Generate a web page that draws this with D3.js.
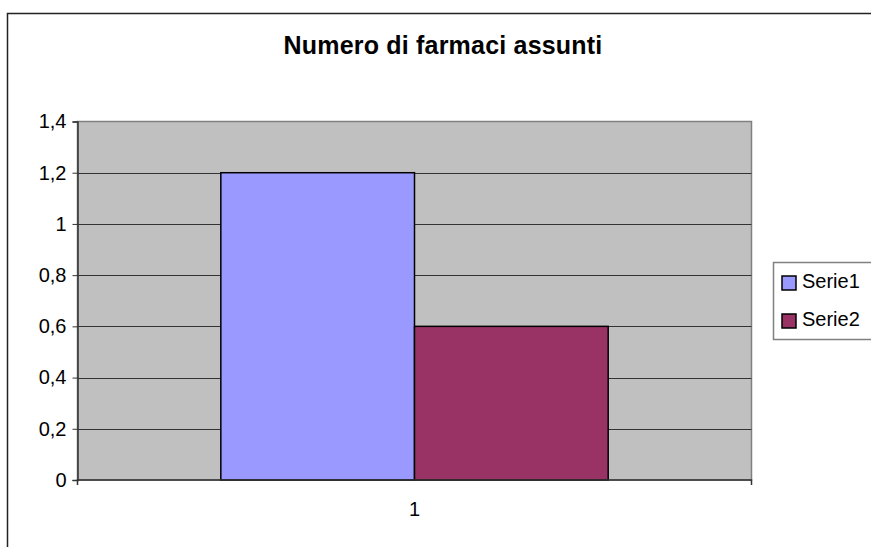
<!DOCTYPE html>
<html>
<head>
<meta charset="utf-8">
<script src="https://cdn.jsdelivr.net/npm/d3@7"></script>
<style>
  body { margin: 0; background: #fff; }
  svg { display: block; font-family: "Liberation Sans", Arial, sans-serif; }
</style>
</head>
<body>
<div id="chart"></div>
<script>
// chart data
var categories = ["1"];
var seriesNames = ["Serie1", "Serie2"];
var seriesValues = [1.2, 0.6];
var seriesColors = ["#9999FF", "#993366"];
var yTicks = [0, 0.2, 0.4, 0.6, 0.8, 1, 1.2, 1.4];

var width = 871, height = 547;
var plot = { left: 77.5, top: 121.5, right: 751.5, bottom: 480 };

var svg = d3.select("#chart")
    .append("svg")
    .attr("width", width)
    .attr("height", height);

// italian number format: comma as decimal separator
var itFormat = d3.formatLocale({ decimal: ",", thousands: ".", grouping: [3], currency: ["", "€"] }).format("~g");

// outer chart border (runs off the right and bottom edge)
svg.append("path")
    .attr("d", "M7.5," + (height + 5) + "V13.5H" + (width + 5))
    .attr("fill", "none")
    .attr("stroke", "#222")
    .attr("stroke-width", 1.5);

svg.append("text")
    .attr("x", 443)
    .attr("y", 54)
    .attr("text-anchor", "middle")
    .attr("font-size", 25)
    .attr("font-weight", "bold")
    .attr("letter-spacing", 0.2)
    .text("Numero di farmaci assunti");

var y = d3.scaleLinear()
    .domain([0, 1.4])
    .range([plot.bottom, plot.top]);

var x = d3.scaleBand()
    .domain(categories)
    .range([plot.left, plot.right])
    .paddingInner(0)
    .paddingOuter(0.37);

var xSeries = d3.scaleBand()
    .domain(seriesNames)
    .range([0, x.bandwidth()]);

// plot area
svg.append("rect")
    .attr("x", plot.left)
    .attr("y", plot.top)
    .attr("width", plot.right - plot.left)
    .attr("height", plot.bottom - plot.top)
    .attr("fill", "#C0C0C0")
    .attr("stroke", "#808080")
    .attr("stroke-width", 1.5);

// gridlines
svg.append("g")
    .selectAll("line")
    .data(yTicks.filter(function (d) { return d > 0 && d < 1.4; }))
    .enter()
    .append("line")
    .attr("x1", plot.left)
    .attr("x2", plot.right)
    .attr("y1", function (d) { return Math.round(y(d)) + 0.5; })
    .attr("y2", function (d) { return Math.round(y(d)) + 0.5; })
    .attr("stroke", "#333")
    .attr("stroke-width", 1);

// bars
svg.append("g")
    .selectAll("rect")
    .data(seriesValues)
    .enter()
    .append("rect")
    .attr("x", function (d, i) { return x(categories[0]) + xSeries(seriesNames[i]); })
    .attr("y", function (d) { return y(d); })
    .attr("width", xSeries.bandwidth())
    .attr("height", function (d) { return plot.bottom - y(d); })
    .attr("fill", function (d, i) { return seriesColors[i]; })
    .attr("stroke", "#000")
    .attr("stroke-width", 1.5);

// y axis
var yAxis = svg.append("g")
    .attr("transform", "translate(" + plot.left + ",0)")
    .call(d3.axisLeft(y).tickValues(yTicks).tickFormat(itFormat).tickSize(5).tickPadding(6));
yAxis.select(".domain").attr("stroke", "#333").attr("stroke-width", 1.5);
yAxis.selectAll(".tick line").attr("stroke", "#333").attr("stroke-width", 1);
yAxis.selectAll(".tick text")
    .attr("font-size", 20)
    .attr("font-family", "Liberation Sans, Arial, sans-serif")
    .attr("fill", "#000");

// x axis
var xAxis = svg.append("g")
    .attr("transform", "translate(0," + plot.bottom + ")")
    .call(d3.axisBottom(x).tickSize(0).tickPadding(22));
xAxis.select(".domain").attr("stroke", "#333").attr("stroke-width", 1.5).attr("d", "M" + plot.left + ",5V0H" + plot.right + "V5");
xAxis.selectAll(".tick text")
    .attr("font-size", 20)
    .attr("font-family", "Liberation Sans, Arial, sans-serif")
    .attr("fill", "#000");

// legend
var legend = svg.append("g");
legend.append("rect")
    .attr("x", 773.5)
    .attr("y", 262.5)
    .attr("width", 110)
    .attr("height", 77)
    .attr("fill", "#fff")
    .attr("stroke", "#808080")
    .attr("stroke-width", 1.5);

var legendItems = legend.selectAll("g.item")
    .data(seriesNames)
    .enter()
    .append("g")
    .attr("class", "item")
    .attr("transform", function (d, i) { return "translate(782," + (276 + i * 38) + ")"; });

legendItems.append("rect")
    .attr("width", 14)
    .attr("height", 14)
    .attr("fill", function (d, i) { return seriesColors[i]; })
    .attr("stroke", "#000")
    .attr("stroke-width", 1.5);

legendItems.append("text")
    .attr("x", 20)
    .attr("y", 12)
    .attr("font-size", 20)
    .text(function (d) { return d; });
</script>
</body>
</html>
